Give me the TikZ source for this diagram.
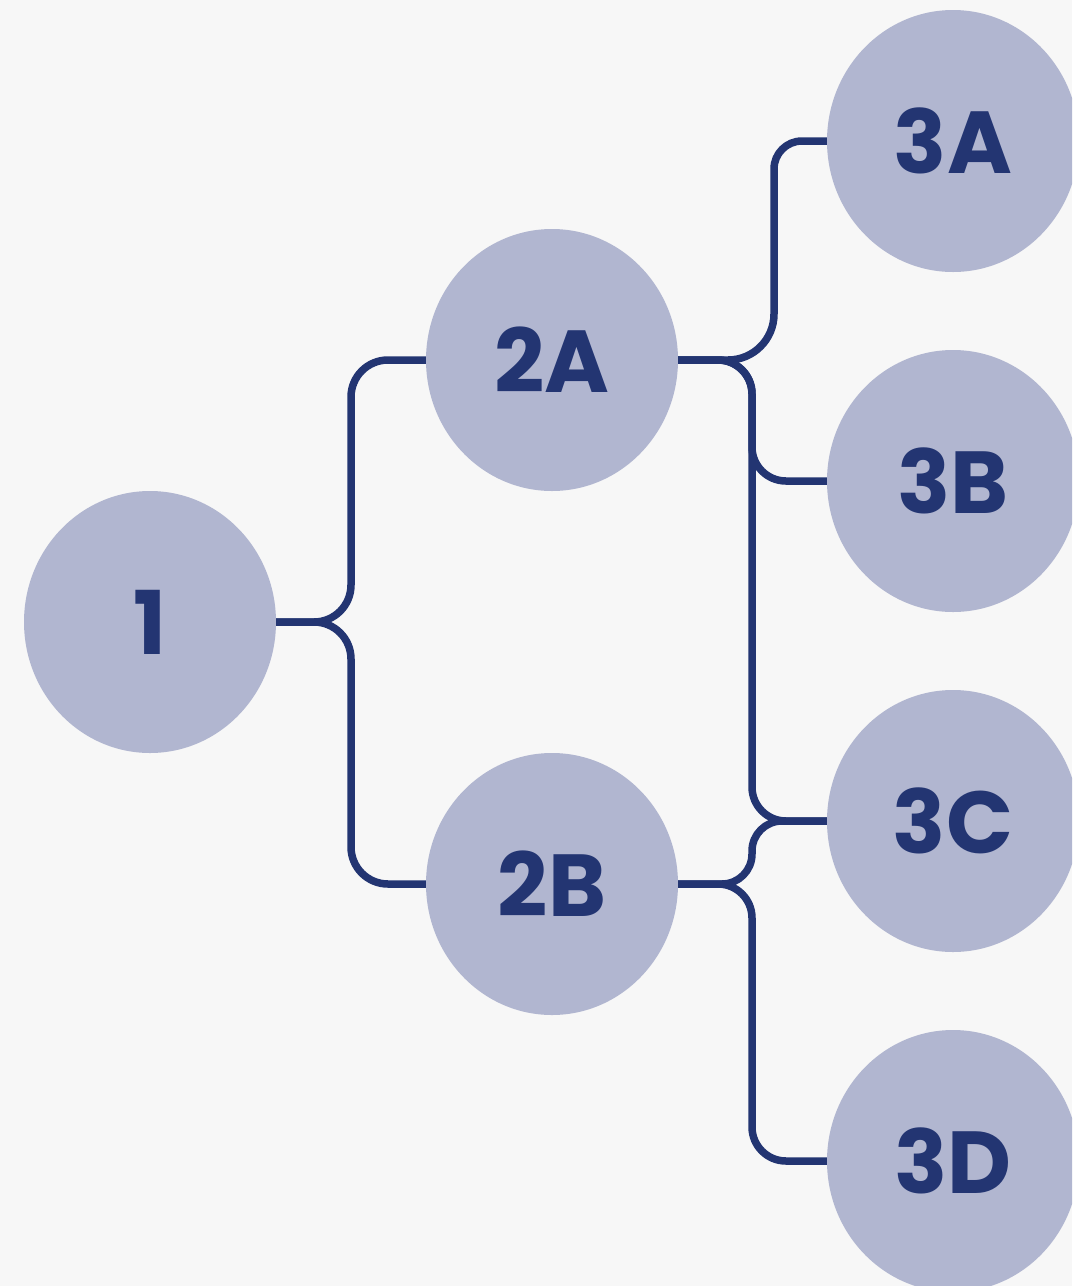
\documentclass[tikz,border=0pt]{standalone}
\usepackage{fontspec}
\setmainfont{Poppins}
\usetikzlibrary{shapes.geometric}
\usetikzlibrary{positioning}

\definecolor{bgray}{HTML}{F7F7F7}
\definecolor{bfill}{HTML}{B1B6D0}
\definecolor{navy}{HTML}{233572}

\tikzset{
  bubble/.style={ellipse, fill=bfill, draw=none, inner sep=0pt,
    minimum width=252pt, minimum height=262pt, text=navy,
    font=\fontsize{88}{88}\selectfont\bfseries},
  link/.style={draw=navy, line width=7.5pt}
}

\begin{document}
\begin{tikzpicture}[x=1pt,y=-1pt]
  \fill[bgray] (0,0) rectangle (1072,1286);
  \useasboundingbox (0,0) rectangle (1072,1286);
  \clip (0,0) rectangle (1072,1286);

  \node[bubble] (n1)  at (150,622)  {1};
  \node[bubble] (n2A) at (552,360)  {2A};
  \node[bubble] (n2B) at (552,884)  {2B};
  \node[bubble] (n3A) at (953,141)  {3A};
  \node[bubble] (n3B) at (953,481)  {3B};
  \node[bubble] (n3C) at (953,821)  {3C};
  \node[bubble] (n3D) at (953,1161) {3D};

  \draw[link, rounded corners=37pt] (n1.east) -- (351,622) |- (n2A.west);
  \draw[link, rounded corners=37pt] (n1.east) -- (351,622) |- (n2B.west);

  \draw[link, rounded corners=46pt] (n2A.east) -- (774,360)
    [rounded corners=28pt] |- (n3A.west);
  \draw[link, rounded corners=34pt] (n2A.east) -- (752,360) |- (n3B.west);
  \draw[link, rounded corners=34pt] (n2A.east) -- (752,360) |- (n3C.west);

  \draw[link, rounded corners=30pt] (n2B.east) -- (752,884) |- (n3C.west);
  \draw[link, rounded corners=34pt] (n2B.east) -- (752,884) |- (n3D.west);
\end{tikzpicture}
\end{document}
